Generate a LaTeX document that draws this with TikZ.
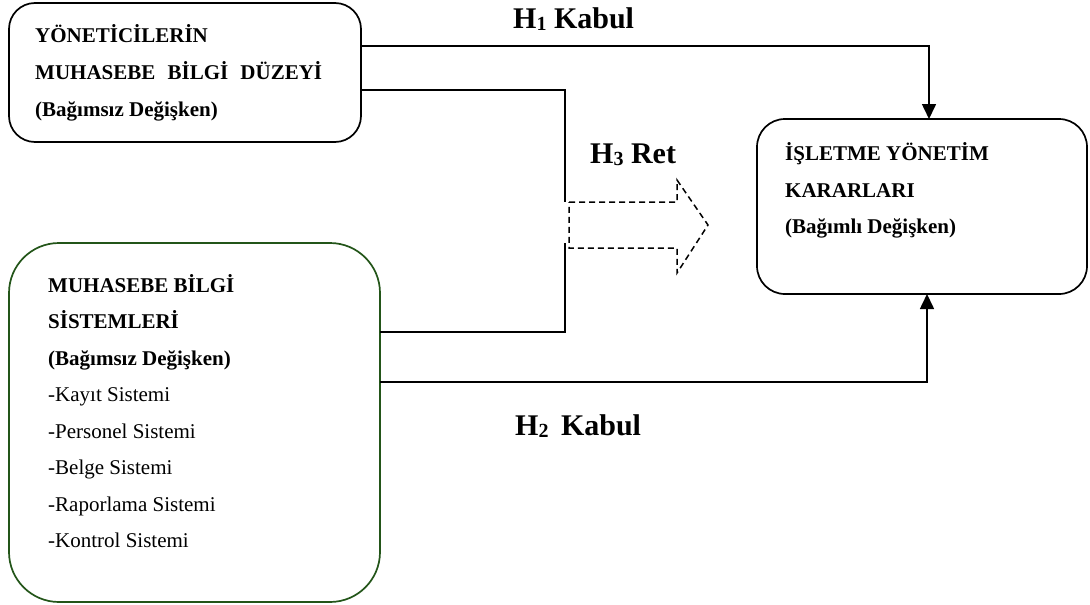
\documentclass[tikz,border=0pt]{standalone}
\usepackage{fontspec}
\setmainfont{Liberation Serif}
\usetikzlibrary{arrows.meta}
\definecolor{boxgreen}{RGB}{35,85,25}
\newcommand\hsub[1]{\raisebox{-2pt}{\fontsize{20}{20}\selectfont #1}}
\begin{document}
\begin{tikzpicture}[x=1pt,y=-1pt,
  box/.style={draw=black,line width=1.7pt,rectangle,inner sep=0pt,outer sep=0pt},
  head/.style={anchor=base west,inner sep=0pt,font=\fontsize{21}{21}\selectfont\bfseries},
  item/.style={anchor=base west,inner sep=0pt,font=\fontsize{21}{21}\selectfont},
  hyp/.style={anchor=base west,inner sep=0pt,font=\fontsize{30}{30}\selectfont\bfseries},
  conn/.style={line width=1.6pt},
  tip/.style={-{Triangle[length=15pt,width=14pt]}},
  reject/.style={line width=1.5pt,dash pattern=on 6pt off 4pt}]

\useasboundingbox (0,0) rectangle (1090,605);
\fill[white] (0,0) rectangle (1090,605);

% boxes
\node[box,minimum width=352pt,minimum height=139pt,rounded corners=26pt] (yon) at (185,72.5) {};
\node[box,minimum width=330pt,minimum height=175pt,rounded corners=28pt] (isl) at (922,206.5) {};
\node[box,draw=boxgreen,minimum width=371pt,minimum height=359pt,rounded corners=50pt] (mbs) at (194.5,422.5) {};

% texts of the upper left box
\node[head] (yon1) at (35,42) {YÖNETİCİLERİN};
\node[head] (yon2) at (35,79) {\makebox[287pt][l]{MUHASEBE\hfill BİLGİ\hfill DÜZEYİ}};
\node[head] (yon3) at (35,116) {(Bağımsız Değişken)};

% texts of the right box
\node[head] (isl1) at (785,160) {İŞLETME YÖNETİM};
\node[head] (isl2) at (785,197) {KARARLARI};
\node[head] (isl3) at (785,233) {(Bağımlı Değişken)};

% texts of the lower left box
\node[head] (mbs1) at (48,292) {MUHASEBE BİLGİ};
\node[head] (mbs2) at (48,328.5) {SİSTEMLERİ};
\node[head] (mbs3) at (48,365) {(Bağımsız Değişken)};
\node[item] (mbs4) at (48,401.5) {-Kayıt Sistemi};
\node[item] (mbs5) at (48,438) {-Personel Sistemi};
\node[item] (mbs6) at (48,474.5) {-Belge Sistemi};
\node[item] (mbs7) at (48,511) {-Raporlama Sistemi};
\node[item] (mbs8) at (48,547.5) {-Kontrol Sistemi};

% hypothesis labels
\node[hyp] (h1) at (513,28) {H\hsub{1} Kabul};
\node[hyp] (h3) at (590,163) {H\hsub{3} Ret};
\node[hyp] (h2) at (515,435) {H\hsub{2}\, Kabul};

% ends of the H3 lines
\coordinate (h3top) at (565,202);
\coordinate (h3bot) at (565,243);

% connectors
\draw[conn,tip] (yon.east |- 0,46) -| (929,0 |- isl.north);
\draw[conn] (yon.east |- 0,90) -| (h3top);
\draw[conn] (mbs.east |- 0,332) -| (h3bot);
\draw[conn,tip] (mbs.east |- 0,382) -| (927,0 |- isl.south);

% rejected hypothesis: dashed block arrow
\draw[reject] (569,202) -- (677,202) -- (677,180) -- (708,225) -- (677,273)
  -- (677,248) -- (569,248) -- cycle;
\end{tikzpicture}
\end{document}
